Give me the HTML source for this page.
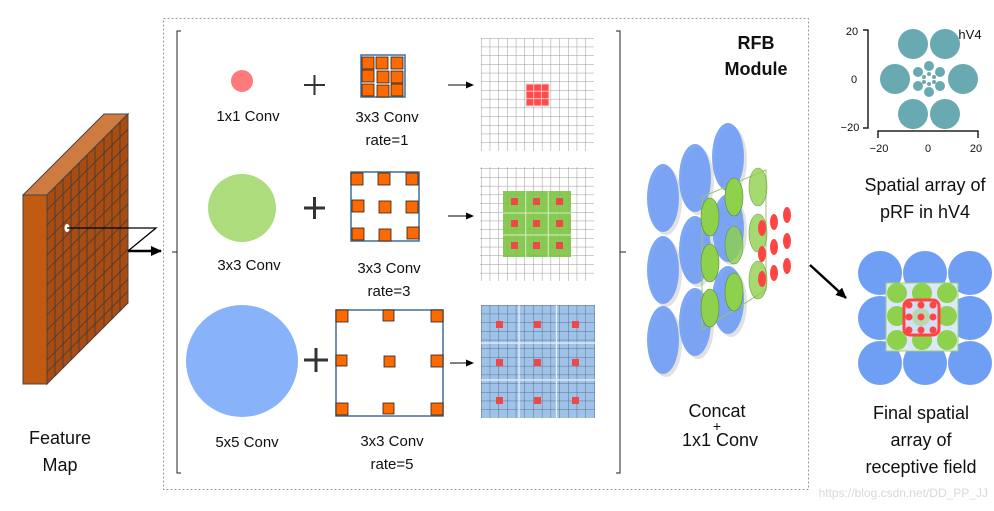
<!DOCTYPE html>
<html><head><meta charset="utf-8"><style>
html,body{margin:0;padding:0;background:#fff}
svg{display:block}
text{font-family:"Liberation Sans","DejaVu Sans",sans-serif;fill:#111}
</style></head><body>
<svg width="994" height="511" viewBox="0 0 994 511" xmlns="http://www.w3.org/2000/svg">
<defs>
<pattern id="g1" width="8.7" height="8.7" patternUnits="userSpaceOnUse" x="481" y="38"><path d="M0 0H8.7M0 0V8.7" stroke="#999" stroke-width="1" fill="none"/></pattern>
<pattern id="g3" width="8.7" height="8.7" patternUnits="userSpaceOnUse" x="481" y="305"><rect width="8.7" height="8.7" fill="#9fc3e8"/><path d="M0 0H8.7M0 0V8.7" stroke="#5a6f86" stroke-width="1" fill="none"/></pattern>
<marker id="ah" markerWidth="8" markerHeight="8" refX="7" refY="4" orient="auto" markerUnits="userSpaceOnUse"><path d="M0 0.5L8 4L0 7.5z" fill="#000"/></marker>
<marker id="ah2" markerWidth="12" markerHeight="12" refX="10" refY="6" orient="auto" markerUnits="userSpaceOnUse"><path d="M0 1L11 6L0 11z" fill="#000"/></marker>
</defs>

<rect x="163.5" y="18.5" width="645" height="471" fill="none" stroke="#999" stroke-dasharray="2,2"/>
<path d="M181 31H177V473H181" fill="none" stroke="#222" stroke-width="1"/>
<path d="M616 31H620V473H616" fill="none" stroke="#222" stroke-width="1"/>
<path d="M172 252H177M620 252H626" stroke="#222"/>

<polygon points="23,195 47,195 128,114 104,114" fill="#cf7a3f" stroke="#444"/>
<polygon points="47,195 128,114 128,303 47,384" fill="#a84c12" stroke="#444"/>
<rect x="23" y="195" width="24" height="189" fill="#c25b12" stroke="#444"/>
<g stroke="#3b3b3b" stroke-width="0.8">
<line x1="55" y1="187" x2="55" y2="376"/><line x1="63" y1="179" x2="63" y2="368"/><line x1="71" y1="171" x2="71" y2="360"/><line x1="79" y1="163" x2="79" y2="352"/><line x1="87" y1="155" x2="87" y2="344"/><line x1="95" y1="147" x2="95" y2="336"/><line x1="104" y1="138" x2="104" y2="327"/><line x1="112" y1="130" x2="112" y2="319"/><line x1="120" y1="122" x2="120" y2="311"/>
<line x1="47" y1="210" x2="128" y2="129"/><line x1="47" y1="225" x2="128" y2="144"/><line x1="47" y1="240" x2="128" y2="159"/><line x1="47" y1="255" x2="128" y2="174"/><line x1="47" y1="270" x2="128" y2="189"/><line x1="47" y1="285" x2="128" y2="204"/><line x1="47" y1="300" x2="128" y2="219"/><line x1="47" y1="315" x2="128" y2="234"/><line x1="47" y1="330" x2="128" y2="249"/><line x1="47" y1="345" x2="128" y2="264"/><line x1="47" y1="360" x2="128" y2="279"/><line x1="47" y1="372" x2="128" y2="291"/>
</g>
<ellipse cx="67" cy="228" rx="2.5" ry="4" fill="#fff"/>
<polyline points="67,228 156,228 128,251" fill="none" stroke="#000" stroke-width="1.3"/>
<line x1="128" y1="251" x2="161" y2="251" stroke="#000" stroke-width="2.5" marker-end="url(#ah2)"/>
<text x="60" y="444" font-size="18" text-anchor="middle">Feature</text>
<text x="60" y="471" font-size="18" text-anchor="middle">Map</text>

<circle cx="242" cy="81" r="11" fill="#ff7b7b"/>
<path d="M304 85H325M314.5 75V95" stroke="#333" stroke-width="2"/>
<rect x="361" y="55" width="44" height="42" fill="#fff" stroke="#3f6d9c" stroke-width="1.5"/>
<g fill="#ff6a00" stroke="#222" stroke-width="0.8">
<rect x="362" y="57" width="12" height="12"/><rect x="376" y="57" width="12" height="12"/><rect x="391" y="57" width="12" height="12"/>
<rect x="362" y="70" width="12" height="12"/><rect x="377" y="71" width="12" height="12"/><rect x="391" y="71" width="12" height="12"/>
<rect x="362" y="84" width="12" height="12"/><rect x="377" y="85" width="12" height="12"/><rect x="391" y="84" width="12" height="12"/>
</g>
<line x1="448" y1="85" x2="473" y2="85" stroke="#000" marker-end="url(#ah)"/>
<rect x="481" y="38" width="113" height="113" fill="url(#g1)"/>
<rect x="526" y="84" width="23" height="22" fill="#ff4b4b" stroke="#ddd"/>
<path d="M533.7 84V106M541.4 84V106M526 91.3H549M526 98.6H549" stroke="#fbb" stroke-width="1"/>
<text x="248" y="121" font-size="15" text-anchor="middle">1x1 Conv</text>
<text x="387" y="122" font-size="15" text-anchor="middle">3x3 Conv</text>
<text x="387" y="145" font-size="15" text-anchor="middle">rate=1</text>

<circle cx="242" cy="208" r="34" fill="#acdc7c"/>
<path d="M304 208H325M314.5 197V219" stroke="#333" stroke-width="3"/>
<rect x="351" y="172" width="68" height="69" fill="#fff" stroke="#3f6d9c" stroke-width="1.5"/>
<g fill="#ff6a00" stroke="#222" stroke-width="0.8">
<rect x="351" y="173" width="12" height="12"/><rect x="378" y="173" width="12" height="12"/><rect x="406" y="173" width="12" height="12"/>
<rect x="352" y="200" width="12" height="12"/><rect x="379" y="201" width="12" height="12"/><rect x="406" y="201" width="12" height="12"/>
<rect x="352" y="228" width="12" height="12"/><rect x="379" y="229" width="12" height="12"/><rect x="407" y="227" width="12" height="12"/>
</g>
<line x1="448" y1="216" x2="473" y2="216" stroke="#000" marker-end="url(#ah)"/>
<rect x="480" y="167" width="114" height="114" fill="url(#g1)"/>
<rect x="503" y="191" width="68" height="66" fill="#7cc442" opacity="0.9"/>
<path d="M525.7 191V257M548.3 191V257M503 213H571M503 235H571" stroke="#d9efc7" stroke-width="1"/>
<g fill="#f04848">
<rect x="511" y="198" width="7" height="7"/><rect x="533" y="198" width="7" height="7"/><rect x="556" y="198" width="7" height="7"/>
<rect x="511" y="220" width="7" height="7"/><rect x="533" y="220" width="7" height="7"/><rect x="556" y="220" width="7" height="7"/>
<rect x="511" y="242" width="7" height="7"/><rect x="533" y="242" width="7" height="7"/><rect x="556" y="242" width="7" height="7"/>
</g>
<text x="249" y="270" font-size="15" text-anchor="middle">3x3 Conv</text>
<text x="389" y="273" font-size="15" text-anchor="middle">3x3 Conv</text>
<text x="389" y="296" font-size="15" text-anchor="middle">rate=3</text>

<circle cx="242" cy="361" r="56" fill="#88b2fa"/>
<path d="M304 360H328M316 348V372" stroke="#333" stroke-width="3"/>
<rect x="336" y="310" width="107" height="106" fill="#fff" stroke="#3f6d9c" stroke-width="1.5"/>
<g fill="#ff6a00" stroke="#222" stroke-width="0.8">
<rect x="336" y="310" width="12" height="12"/><rect x="383" y="310" width="11" height="11"/><rect x="431" y="310" width="12" height="12"/>
<rect x="336" y="355" width="11" height="11"/><rect x="384" y="356" width="11" height="11"/><rect x="431" y="355" width="12" height="12"/>
<rect x="336" y="403" width="12" height="12"/><rect x="383" y="403" width="11" height="11"/><rect x="431" y="403" width="12" height="12"/>
</g>
<line x1="450" y1="363" x2="473" y2="363" stroke="#000" marker-end="url(#ah)"/>
<rect x="481" y="305" width="114" height="113" fill="url(#g3)"/>
<path d="M519 305V418M556.5 305V418M481 343H595M481 380H595" stroke="#e8f2ff" stroke-width="1.2"/>
<g fill="#f04848">
<rect x="496" y="321" width="7" height="7"/><rect x="534" y="321" width="7" height="7"/><rect x="572" y="321" width="7" height="7"/>
<rect x="496" y="359" width="7" height="7"/><rect x="534" y="359" width="7" height="7"/><rect x="572" y="359" width="7" height="7"/>
<rect x="496" y="397" width="7" height="7"/><rect x="534" y="397" width="7" height="7"/><rect x="572" y="397" width="7" height="7"/>
</g>
<text x="247" y="447" font-size="15" text-anchor="middle">5x5 Conv</text>
<text x="392" y="446" font-size="15" text-anchor="middle">3x3 Conv</text>
<text x="392" y="469" font-size="15" text-anchor="middle">rate=5</text>

<text x="756" y="49" font-size="18" font-weight="bold" text-anchor="middle">RFB</text>
<text x="756" y="75" font-size="18" font-weight="bold" text-anchor="middle">Module</text>

<g fill="#aaa" opacity="0.35">
<ellipse cx="731" cy="160" rx="16" ry="34"/><ellipse cx="698" cy="181" rx="16" ry="34"/><ellipse cx="666" cy="201" rx="16" ry="34"/>
<ellipse cx="731" cy="231" rx="16" ry="34"/><ellipse cx="698" cy="253" rx="16" ry="34"/><ellipse cx="666" cy="273" rx="16" ry="34"/>
<ellipse cx="731" cy="303" rx="16" ry="34"/><ellipse cx="698" cy="325" rx="16" ry="34"/><ellipse cx="666" cy="343" rx="16" ry="34"/>
</g>
<g fill="#6f9ef5" opacity="0.9">
<ellipse cx="728" cy="157" rx="16" ry="34"/><ellipse cx="695" cy="178" rx="16" ry="34"/><ellipse cx="663" cy="198" rx="16" ry="34"/>
<ellipse cx="728" cy="228" rx="16" ry="34"/><ellipse cx="695" cy="250" rx="16" ry="34"/><ellipse cx="663" cy="270" rx="16" ry="34"/>
<ellipse cx="728" cy="300" rx="16" ry="34"/><ellipse cx="695" cy="322" rx="16" ry="34"/><ellipse cx="663" cy="340" rx="16" ry="34"/>
</g>
<polygon points="702,197 766,170 766,290 702,330" fill="none" stroke="#9cc470" stroke-width="1"/>
<g fill="#8ed14c" stroke="#5b8a2e" stroke-width="0.6">
<ellipse cx="758" cy="187" rx="9" ry="19" opacity="0.8"/><ellipse cx="734" cy="197" rx="9" ry="19"/><ellipse cx="710" cy="217" rx="9" ry="19"/>
<ellipse cx="758" cy="233" rx="9" ry="19" opacity="0.8"/><ellipse cx="734" cy="245" rx="9" ry="19" opacity="0.8"/><ellipse cx="710" cy="263" rx="9" ry="19"/>
<ellipse cx="758" cy="280" rx="9" ry="19" opacity="0.8"/><ellipse cx="734" cy="292" rx="9" ry="19"/><ellipse cx="710" cy="308" rx="9" ry="19"/>
</g>
<g fill="#f44">
<ellipse cx="762" cy="228" rx="4" ry="8"/><ellipse cx="774" cy="222" rx="4" ry="8"/><ellipse cx="787" cy="215" rx="4" ry="8"/>
<ellipse cx="762" cy="254" rx="4" ry="8"/><ellipse cx="774" cy="247" rx="4" ry="8"/><ellipse cx="787" cy="241" rx="4" ry="8"/>
<ellipse cx="762" cy="279" rx="4" ry="8"/><ellipse cx="774" cy="273" rx="4" ry="8"/><ellipse cx="787" cy="266" rx="4" ry="8"/>
</g>
<text x="717" y="417" font-size="18" text-anchor="middle">Concat</text>
<text x="717" y="431" font-size="14" text-anchor="middle">+</text>
<text x="720" y="446" font-size="18" text-anchor="middle">1x1 Conv</text>

<path d="M863 30H868V128H863M878 138V131H978V138" fill="none" stroke="#222" stroke-width="1.5"/>
<g font-size="11" text-anchor="middle">
<text x="852" y="35">20</text><text x="854" y="83">0</text><text x="850" y="131">−20</text>
<text x="879" y="152">−20</text><text x="928" y="152">0</text><text x="976" y="152">20</text>
</g>
<text x="970" y="39" font-size="13" text-anchor="middle">hV4</text>
<g fill="#68a9b2">
<circle cx="913" cy="44" r="15"/><circle cx="945" cy="44" r="15"/>
<circle cx="895" cy="79" r="15"/><circle cx="963" cy="79" r="15"/>
<circle cx="913" cy="114" r="15"/><circle cx="945" cy="114" r="15"/>
<circle cx="929" cy="66" r="5"/><circle cx="940" cy="72" r="5"/><circle cx="940" cy="86" r="5"/><circle cx="929" cy="92" r="5"/><circle cx="918" cy="86" r="5"/><circle cx="918" cy="72" r="5"/>
<circle cx="929" cy="74" r="2"/><circle cx="934" cy="77" r="2"/><circle cx="934" cy="82" r="2"/><circle cx="929" cy="84" r="2"/><circle cx="924" cy="82" r="2"/><circle cx="924" cy="77" r="2"/>
</g>
<text x="925" y="191" font-size="18" text-anchor="middle">Spatial array of</text>
<text x="925" y="218" font-size="18" text-anchor="middle">pRF in hV4</text>

<line x1="810" y1="265" x2="846" y2="298" stroke="#000" stroke-width="2.5" marker-end="url(#ah2)"/>

<g fill="#6f9ef5">
<circle cx="880" cy="273" r="22"/><circle cx="925" cy="273" r="22"/><circle cx="970" cy="273" r="22"/>
<circle cx="880" cy="318" r="22"/><circle cx="970" cy="318" r="22"/>
<circle cx="880" cy="363" r="22"/><circle cx="925" cy="363" r="22"/><circle cx="970" cy="363" r="22"/>
</g>
<rect x="886" y="283" width="72" height="68" fill="#dbe8fb" stroke="#9cd36a"/>
<g fill="#8ed14c">
<circle cx="897" cy="293" r="10"/><circle cx="922" cy="293" r="10"/><circle cx="947" cy="293" r="10"/>
<circle cx="897" cy="316" r="10"/><circle cx="947" cy="316" r="10"/>
<circle cx="897" cy="340" r="10"/><circle cx="922" cy="340" r="10"/><circle cx="947" cy="340" r="10"/>
</g>
<rect x="904" y="300" width="35" height="35" rx="6" fill="#cfe0f5" stroke="#f44" stroke-width="3"/>
<circle cx="921" cy="317" r="9" fill="#b8d9b0"/>
<g fill="#f44">
<circle cx="909" cy="305" r="3.5"/><circle cx="921" cy="305" r="3.5"/><circle cx="933" cy="305" r="3.5"/>
<circle cx="909" cy="317" r="3.5"/><circle cx="921" cy="317" r="3.5"/><circle cx="933" cy="317" r="3.5"/>
<circle cx="909" cy="330" r="3.5"/><circle cx="921" cy="330" r="3.5"/><circle cx="933" cy="330" r="3.5"/>
</g>
<text x="921" y="419" font-size="18" text-anchor="middle">Final spatial</text>
<text x="921" y="446" font-size="18" text-anchor="middle">array of</text>
<text x="921" y="473" font-size="18" text-anchor="middle">receptive field</text>

<text x="988" y="497" font-size="12" text-anchor="end" style="fill:#d8d8d8">https://blog.csdn.net/DD_PP_JJ</text>
</svg>
</body></html>
